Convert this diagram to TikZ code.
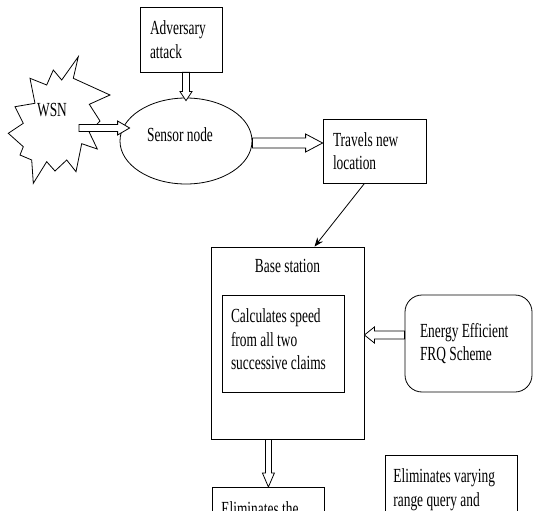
\documentclass[tikz,border=0pt]{standalone}
\usepackage{fontspec}
\newfontfamily\tnr[FakeStretch=0.67]{Liberation Serif}
\usetikzlibrary{calc,arrows.meta,shapes.geometric}
\newcommand\blockarr[5]{%
  \draw[blk] let \p1=($#2-#1$), \n1={veclen(\x1,\y1)}, \n2={atan2(\y1,\x1)} in
  [shift={#1}, rotate=\n2]
  (0pt,-#3pt) -- ({\n1-#5pt},-#3pt) -- ({\n1-#5pt},-#4pt) -- ({\n1+0pt},0pt)
  -- ({\n1-#5pt},#4pt) -- ({\n1-#5pt},#3pt) -- (0pt,#3pt) -- cycle;}
\begin{document}
\begin{tikzpicture}[x=1pt,y=-1pt,
  txt/.style={font=\tnr\fontsize{20}{23.5}\selectfont},
  box/.style={draw, line width=0.8pt, txt, align=flush left, inner ysep=0pt},
  blk/.style={draw, fill=white, line width=0.8pt, line join=miter},
  thin/.style={line width=0.8pt}]
\useasboundingbox (0,0) rectangle (533,511);
\clip (0,0) rectangle (533,511);

% WSN starburst
\draw[thin, fill=white] (78.3,56.7) -- (73.3,78.3) -- (110,95) -- (89.3,104.3) -- (100,121)
  -- (89.3,132.3) -- (97.3,149) -- (81.7,143.7) -- (76,171.7) -- (66.7,160) -- (55,171)
  -- (46.7,161.7) -- (33.3,183.3) -- (31.7,160) -- (20,155) -- (23.3,146.7) -- (8.3,133.3)
  -- (23.3,123.3) -- (15,106.7) -- (35,103.3) -- (30,78.3) -- (46.7,85) -- (53.3,70)
  -- (61.7,80) -- cycle;
\node[txt, anchor=base, inner sep=0pt] (wsn) at (52,117) {WSN};
\coordinate (wsnout) at (79,128);

\node[box, inner xsep=10pt, text width=62pt, minimum height=65pt] (adv) at (181,39.5) {Adversary\\attack};
\node[draw, thin, ellipse, txt, inner sep=0pt, minimum width=132pt, minimum height=86pt, text depth=12pt] (sen) at (186,141) {Sensor node\kern12pt};
\node[box, inner xsep=10pt, text width=83pt, minimum height=64pt] (trav) at (374.5,151) {Travels new\\location};
\node[draw, thin, minimum width=153pt, minimum height=192pt, inner sep=0pt] (base) at (287.5,343) {};
\node[txt, anchor=base, inner sep=0pt] (bst) at ($(base.north)+(0,26)$) {Base station};
\node[box, inner xsep=9pt, text width=104pt, minimum height=97pt] (spd) at (283,343.5) {Calculates speed\\from all two\\successive claims\rule[-8pt]{0pt}{8pt}};
\node[box, rounded corners=17pt, inner xsep=15pt, text width=97pt, minimum height=97pt] (en) at (468.5,343.5) {Energy Efficient\\FRQ Scheme};
\node[box, anchor=north west, inner xsep=9pt, text width=94pt, inner ysep=14.3pt] (el1) at (212,487) {Eliminates the};
\node[box, anchor=north west, inner xsep=8pt, text width=116pt, inner ysep=13.3pt] (el2) at (385,455) {Eliminates varying\\range query and};

\coordinate (enout) at ([yshift=8.5pt]en.west);

% block arrows
\blockarr{(adv.south -| sen.north)}{([yshift=-3pt]sen.north)}{3.5}{6}{9}
\blockarr{(wsnout)}{($(sen.west|-wsnout)+(10,0)$)}{3.5}{7}{12}
\blockarr{([yshift=-2pt]sen.east)}{([yshift=-2pt]trav.west|-sen.east)}{5}{9}{17}
\blockarr{(enout)}{(base.east|-enout)}{4}{8}{10}
\blockarr{(el1.north|-base.south)}{(el1.north)}{3}{6}{14}

% plain arrow
\draw[thin, -{Stealth[length=9pt,width=7pt]}] ([xshift=-10pt]trav.south) -- ([xshift=27pt]base.north);
\end{tikzpicture}
\end{document}
